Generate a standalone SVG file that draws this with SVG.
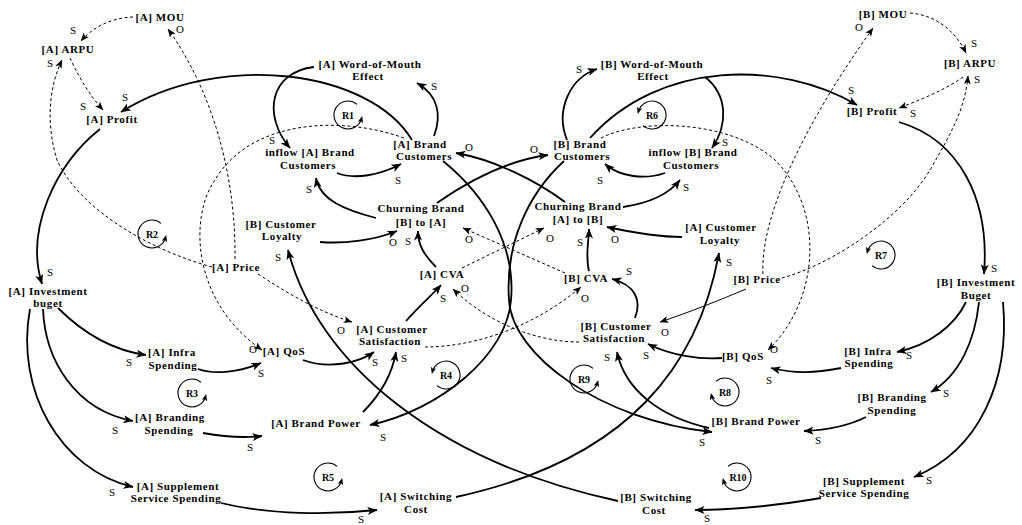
<svg xmlns="http://www.w3.org/2000/svg" width="1022" height="525" viewBox="0 0 1022 525">
<defs>
<marker id="ah" viewBox="0 0 10 8" refX="9.5" refY="4" markerWidth="11" markerHeight="8" markerUnits="userSpaceOnUse" orient="auto"><path d="M0,0 L10,4 L0,8 L2.5,4 z" fill="#000"/></marker>
<marker id="ahd" viewBox="0 0 10 8" refX="9.5" refY="4" markerWidth="9" markerHeight="7" markerUnits="userSpaceOnUse" orient="auto"><path d="M0,0 L10,4 L0,8 L2.5,4 z" fill="#000"/></marker>
<marker id="al" viewBox="0 0 10 8" refX="6" refY="4" markerWidth="7" markerHeight="6" markerUnits="userSpaceOnUse" orient="auto"><path d="M0,0 L10,4 L0,8 L2.5,4 z" fill="#000"/></marker>
</defs>
<style>
text{font-family:"Liberation Serif","Times New Roman",serif;fill:#000}
.nodes text{font-weight:bold;font-size:11px;letter-spacing:0.6px;text-anchor:middle}
.pol text{font-size:11px;text-anchor:middle}
.s{fill:none;stroke:#000;stroke-width:1.8;marker-end:url(#ah)}
.d{fill:none;stroke:#000;stroke-width:1;stroke-dasharray:3 2.5;marker-end:url(#ahd)}
.t{fill:none;stroke:#000;stroke-width:1;marker-end:url(#ahd)}
.lp path{fill:none;stroke:#000;stroke-width:1.1;marker-end:url(#al)}
.lp text{font-weight:bold;font-size:10px;text-anchor:middle}
</style>
<rect width="1022" height="525" fill="#fff"/>
<g id="connectors">
<path class="s" d="M100 129 C55 165 25 230 42 284"/>
<path class="s" d="M412 140 C370 70 220 50 121 112"/>
<path class="s" d="M314 67 C270 72 262 115 290 148"/>
<path class="s" d="M434 136 C442 115 438 95 417 83"/>
<path class="s" d="M337 173 C355 180 380 175 401 164"/>
<path class="s" d="M376 218 C345 210 320 200 316 178"/>
<path class="s" d="M320 242 C345 244 375 240 397 231"/>
<path class="s" d="M436 267 C424 255 418 245 418 231"/>
<path class="s" d="M437 203 C470 180 510 160 548 155"/>
<path class="s" d="M565 202 C535 180 495 160 456 153"/>
<path class="s" d="M623 207 C650 203 668 195 680 180"/>
<path class="s" d="M665 173 C645 180 620 177 605 164"/>
<path class="s" d="M567 140 C555 110 570 78 597 69"/>
<path class="s" d="M705 77 C728 95 728 125 712 148"/>
<path class="s" d="M590 138 C660 60 780 60 857 105"/>
<path class="s" d="M899 122 C960 140 990 200 984 274"/>
<path class="s" d="M406 321 C420 305 432 295 441 285"/>
<path class="s" d="M635 318 C642 300 635 285 612 279"/>
<path class="s" d="M589 271 C585 255 589 240 589 229"/>
<path class="s" d="M682 237 C660 237 630 232 607 227"/>
<path class="s" d="M618 501 C438 462 318 365 288 250"/>
<path class="s" d="M456 497 C631 459 699 363 719 253"/>
<path class="s" d="M443 161 C485 195 516 245 511 300 C507 355 440 410 370 425"/>
<path class="s" d="M564 161 C527 195 505 245 509 300 C512 355 600 420 712 432"/>
<path class="s" d="M58 308 C80 330 110 350 146 355"/>
<path class="s" d="M43 309 C45 360 75 410 133 421"/>
<path class="s" d="M30 309 C15 390 60 470 133 487"/>
<path class="s" d="M198 369 C215 375 240 372 261 363"/>
<path class="s" d="M203 433 C225 437 245 438 262 436"/>
<path class="s" d="M221 503 C270 515 330 515 377 510"/>
<path class="s" d="M303 360 C330 370 360 362 374 352"/>
<path class="s" d="M363 412 C380 395 392 375 396 352"/>
<path class="s" d="M966 302 C955 325 930 345 897 352"/>
<path class="s" d="M979 302 C975 340 960 375 931 392"/>
<path class="s" d="M1003 302 C1010 380 980 450 914 477"/>
<path class="s" d="M841 368 C815 373 795 374 771 368"/>
<path class="s" d="M866 417 C850 425 830 430 804 431"/>
<path class="s" d="M821 498 C780 505 740 510 695 510"/>
<path class="s" d="M722 358 C700 360 670 355 648 344"/>
<path class="s" d="M709 428 C660 417 625 390 617 352"/>
<path class="d" d="M133 17 C110 18 92 28 81 41"/>
<path class="d" d="M235 259 C236 180 215 95 168 29"/>
<path class="d" d="M212 267 C150 250 80 210 57 160 C45 120 50 85 62 60"/>
<path class="d" d="M70 58 C80 80 92 98 103 110"/>
<path class="d" d="M258 274 C290 295 320 312 352 322"/>
<path class="d" d="M404 138 C340 115 250 120 215 180 C190 215 190 300 262 350"/>
<path class="d" d="M462 268 L544 228"/>
<path class="d" d="M565 273 L463 228"/>
<path class="d" d="M425 347 C470 347 530 330 581 287"/>
<path class="d" d="M579 342 C540 342 490 325 453 289"/>
<path class="d" d="M910 13 C935 15 955 30 966 53"/>
<path class="d" d="M763 274 C760 220 800 130 873 28"/>
<path class="d" d="M782 278 C830 265 900 220 930 170 C950 135 965 110 968 76"/>
<path class="d" d="M963 77 C945 90 920 100 899 108"/>
<path class="d" d="M601 138 C640 118 730 120 775 160 C825 210 820 300 768 350"/>
<path class="t" d="M746 289 C720 300 690 312 660 322"/>
</g>
<g id="polarity" class="pol">
<text x="73" y="34">S</text><text x="180" y="33">O</text><text x="50" y="67">S</text><text x="83" y="110">S</text>
<text x="125" y="101">S</text><text x="50" y="276">S</text><text x="272" y="144">S</text><text x="434" y="90">S</text>
<text x="398" y="184">S</text><text x="309" y="193">S</text><text x="393" y="246">O</text><text x="408" y="245">S</text>
<text x="469" y="243">O</text><text x="550" y="242">O</text><text x="469" y="151">O</text><text x="534" y="153">O</text>
<text x="686" y="191">S</text><text x="600" y="184">S</text><text x="579" y="73">S</text><text x="725" y="146">S</text>
<text x="851" y="94">S</text><text x="974" y="47">S</text><text x="977" y="83">S</text><text x="913" y="117">S</text>
<text x="859" y="31">O</text><text x="994" y="272">S</text><text x="443" y="302">S</text><text x="465" y="292">O</text>
<text x="341" y="334">O</text><text x="580" y="246">S</text><text x="615" y="243">O</text><text x="629" y="275">S</text>
<text x="585" y="302">O</text><text x="665" y="336">O</text><text x="729" y="266">S</text><text x="278" y="261">S</text>
<text x="129" y="366">S</text><text x="261" y="377">S</text><text x="253" y="353">O</text><text x="115" y="434">S</text>
<text x="112" y="496">S</text><text x="250" y="451">S</text><text x="375" y="366">S</text><text x="404" y="362">S</text>
<text x="383" y="441">S</text><text x="361" y="523">S</text><text x="607" y="361">S</text><text x="646" y="359">S</text>
<text x="702" y="446">S</text><text x="769" y="384">S</text><text x="774" y="353">O</text><text x="909" y="359">S</text>
<text x="946" y="397">S</text><text x="818" y="444">S</text><text x="929" y="484">S</text><text x="707" y="522">S</text>
</g>
<g id="loops" class="lp">
<g id="R1"><path d="M357 104.3 A14 14 0 1 0 361.5 118.6"/><text x="348" y="118.5">R1</text></g>
<g id="R2"><path d="M161 223.3 A14 14 0 1 0 165.5 237.6"/><text x="152" y="237.5">R2</text></g>
<g id="R3"><path d="M201 382.3 A14 14 0 1 0 205.5 396.6"/><text x="192" y="396.5">R3</text></g>
<g id="R4"><path d="M437 385.7 A14 14 0 1 0 432.5 371.4"/><text x="446" y="378.5">R4</text></g>
<g id="R5"><path d="M337 466.3 A14 14 0 1 0 341.5 480.6"/><text x="328" y="480.5">R5</text></g>
<g id="R6"><path d="M643 125.7 A14 14 0 1 0 638.5 111.4"/><text x="652" y="118.5">R6</text></g>
<g id="R7"><path d="M872 265.7 A14 14 0 1 0 867.5 251.4"/><text x="881" y="258.5">R7</text></g>
<g id="R8"><path d="M716 381.3 A14 14 0 1 1 711.5 395.6"/><text x="725" y="395.5">R8</text></g>
<g id="R9"><path d="M593 368.3 A14 14 0 1 0 597.5 382.6"/><text x="584" y="382.5">R9</text></g>
<g id="R10"><path d="M728 466.3 A14 14 0 1 1 723.5 480.6"/><text x="738" y="480.5">R10</text></g>
</g>
<g class="nodes">
<g id="a-mou"><text x="160" y="21">[A] MOU</text></g>
<g id="a-arpu"><text x="68" y="53">[A] ARPU</text></g>
<g id="a-profit"><text x="112" y="123">[A] Profit</text></g>
<g id="a-wom"><text x="370" y="67.5">[A] Word-of-Mouth</text><text x="368" y="80">Effect</text></g>
<g id="a-inflow"><text x="310" y="156">inflow [A] Brand</text><text x="308" y="168.5">Customers</text></g>
<g id="a-brandcust"><text x="420" y="147.5">[A] Brand</text><text x="424" y="160">Customers</text></g>
<g id="b-brandcust"><text x="580" y="147.5">[B] Brand</text><text x="582" y="160">Customers</text></g>
<g id="b-wom"><text x="652" y="67.5">[B] Word-of-Mouth</text><text x="653" y="80">Effect</text></g>
<g id="b-inflow"><text x="693" y="156">inflow [B] Brand</text><text x="691" y="168.5">Customers</text></g>
<g id="b-mou"><text x="883" y="18">[B] MOU</text></g>
<g id="b-arpu"><text x="970" y="67">[B] ARPU</text></g>
<g id="b-profit"><text x="872" y="115">[B] Profit</text></g>
<g id="a-invest"><text x="48" y="294.5">[A] Investment</text><text x="48" y="307">buget</text></g>
<g id="a-price"><text x="236" y="271">[A] Price</text></g>
<g id="b-loyalty"><text x="281" y="227.5">[B] Customer</text><text x="282" y="240">Loyalty</text></g>
<g id="churn-ba"><text x="421" y="212">Churning Brand</text><text x="421" y="226">[B] to [A]</text></g>
<g id="a-cva"><text x="442" y="278">[A] CVA</text></g>
<g id="a-custsat"><text x="392" y="332.5">[A] Customer</text><text x="390" y="345">Satisfaction</text></g>
<g id="churn-ab"><text x="578" y="210">Churning Brand</text><text x="578" y="223">[A] to [B]</text></g>
<g id="a-loyalty"><text x="721" y="231">[A] Customer</text><text x="720" y="243.5">Loyalty</text></g>
<g id="b-cva"><text x="586" y="282">[B] CVA</text></g>
<g id="b-price"><text x="757" y="283">[B] Price</text></g>
<g id="b-custsat"><text x="616" y="329.5">[B] Customer</text><text x="614" y="342">Satisfaction</text></g>
<g id="b-invest"><text x="976" y="286">[B] Investment</text><text x="976" y="298.5">Buget</text></g>
<g id="a-infra"><text x="172" y="356">[A] Infra</text><text x="173" y="368.5">Spending</text></g>
<g id="a-qos"><text x="284" y="355">[A] QoS</text></g>
<g id="a-branding"><text x="170" y="421">[A] Branding</text><text x="169" y="433.5">Spending</text></g>
<g id="a-brandpower"><text x="316" y="427">[A] Brand Power</text></g>
<g id="a-supp"><text x="178" y="489.5">[A] Supplement</text><text x="176" y="502">Service Spending</text></g>
<g id="a-switch"><text x="416" y="500">[A] Switching</text><text x="416" y="513">Cost</text></g>
<g id="b-switch"><text x="656" y="501">[B] Switching</text><text x="654" y="513.5">Cost</text></g>
<g id="b-qos"><text x="743" y="360">[B] QoS</text></g>
<g id="b-infra"><text x="868" y="354.5">[B] Infra</text><text x="869" y="367">Spending</text></g>
<g id="b-branding"><text x="892" y="401">[B] Branding</text><text x="892" y="413.5">Spending</text></g>
<g id="b-brandpower"><text x="756" y="425">[B] Brand Power</text></g>
<g id="b-supp"><text x="864" y="484.5">[B] Supplement</text><text x="864" y="497">Service Spending</text></g>
</g>
</svg>
